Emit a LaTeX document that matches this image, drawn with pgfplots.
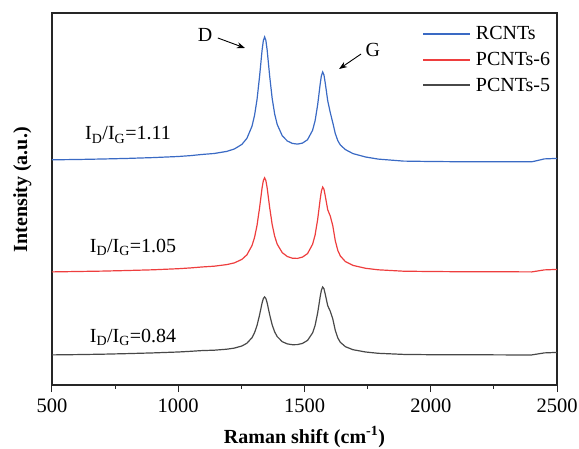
\documentclass[border=0pt]{standalone}
\usepackage{fontspec}
\setmainfont{Liberation Serif}
\usepackage{pgfplots}
\usepackage{pgfplotstable}
\pgfplotsset{compat=1.18}
\usetikzlibrary{arrows.meta}

\definecolor{rcnt}{RGB}{58,106,196}
\definecolor{pcntsix}{RGB}{238,62,62}
\definecolor{pcntfive}{RGB}{72,72,72}

% Raman spectra, stacked with a vertical offset (arbitrary intensity units)
\pgfplotstableread{
x     blue   red    black
500   226.2  114.1  31.1
600   226.5  114.5  31.4
700   227.0  114.9  31.8
800   227.6  115.5  32.4
900   228.4  116.2  33.1
1000  229.5  117.3  34.0
1050  230.4  118.1  34.7
1092  231.5  119.0  35.4
1142  232.5  119.8  35.8
1192  234.6  121.4  36.8
1222  237.0  123.1  37.9
1252  241.6  126.6  40.0
1272  247.7  131.2  42.8
1292  259.7  140.4  48.3
1302  270.4  148.4  53.2
1312  286.5  160.6  60.5
1322  309.4  178.1  71.0
1332  335.8  198.1  83.0
1337  345.4  205.4  87.4
1342  349.1  208.2  89.1
1347  345.6  205.5  87.5
1352  336.2  198.3  83.2
1362  310.1  178.6  71.4
1372  287.5  161.5  61.1
1382  271.8  149.6  54.0
1392  261.5  141.8  49.4
1412  250.2  133.3  44.3
1432  245.0  129.5  42.1
1452  242.6  127.8  41.3
1472  241.9  127.6  41.4
1492  242.9  128.9  42.6
1512  246.3  132.4  45.6
1532  255.7  141.7  53.1
1542  265.3  151.0  60.6
1552  281.0  166.3  72.9
1557  291.3  176.3  80.9
1562  301.8  186.6  89.2
1567  310.4  195.0  95.9
1572  314.0  198.9  99.0
1577  311.1  196.8  97.3
1582  303.3  190.4  92.0
1592  285.2  176.2  80.3
1602  273.5  170.0  74.8
1612  263.3  160.3  67.1
1622  252.4  145.2  55.5
1632  245.3  135.5  48.0
1642  241.0  130.0  43.7
1662  236.4  124.4  39.3
1692  232.4  120.6  36.3
1742  229.0  117.7  34.0
1792  226.9  116.2  32.7
1892  224.9  114.8  31.6
2000  224.5  114.5  31.3
2100  224.3  114.3  31.2
2200  224.3  114.2  31.2
2300  224.2  114.2  31.1
2400  224.2  114.1  31.1
2425  225.6  115.1  32.1
2450  227.1  116.1  33.1
2500  227.6  116.6  33.6
}\spectra

\begin{document}
\begin{tikzpicture}
\begin{axis}[
  at={(0,0)}, anchor=south west,
  scale only axis, width=505pt, height=372pt,
  xmin=500, xmax=2500, ymin=1, ymax=373,
  axis line style={line width=1.3pt, black!85},
  xtick={500,1000,1500,2000,2500},
  minor x tick num=1,
  ytick=\empty,
  xtick pos=bottom,
  tick align=outside,
  tick style={line width=1pt, black!85},
  major tick length=7pt, minor tick length=3.5pt,
  /pgf/number format/assume math mode=true,
  /pgf/number format/1000 sep={},
  ticklabel style={font=\fontsize{20.5}{24}\selectfont},
  xticklabel style={yshift=-3pt},
  xlabel={Raman shift (cm\textsuperscript{-1})},
  ylabel={Intensity (a.u.)},
  label style={font=\fontsize{20}{24}\selectfont\bfseries},
  xlabel style={yshift=-7pt},
  ylabel style={yshift=10pt, at={(ticklabel cs:0.525)}},
  legend style={draw=none, fill=none, at={(axis cs:1965,361.5)}, anchor=north west,
    font=\fontsize{20}{24}\selectfont, inner sep=0pt, row sep=6.8pt,
    column sep=3pt, nodes={inner sep=2pt}},
  legend cell align=left,
  legend image code/.code={\draw[#1, line width=1.8pt] (0pt,0pt) -- (47pt,0pt);},
  every axis plot/.append style={line width=1.2pt},
]
\addplot[rcnt] table[x=x, y=blue] {\spectra};
\addlegendentry{RCNTs}
\addplot[pcntsix] table[x=x, y=red] {\spectra};
\addlegendentry{PCNTs-6}
\addplot[pcntfive] table[x=x, y=black] {\spectra};
\addlegendentry{PCNTs-5}

% band labels and pointers
\node[font=\fontsize{20}{24}\selectfont] at (axis cs:1106,351) {D};
\draw[-{Stealth[length=8pt,width=6pt]}, line width=0.9pt] (axis cs:1157,348) -- (axis cs:1264,338);
\node[font=\fontsize{20}{24}\selectfont] at (axis cs:1771,336) {G};
\draw[-{Stealth[length=8pt,width=6pt]}, line width=0.9pt] (axis cs:1724,332) -- (axis cs:1637,317);

% intensity ratios
\node[font=\fontsize{20}{24}\selectfont] at (axis cs:801,251) {I\textsubscript{D}/I\textsubscript{G}=1.11};
\node[font=\fontsize{20}{24}\selectfont] at (axis cs:821,139) {I\textsubscript{D}/I\textsubscript{G}=1.05};
\node[font=\fontsize{20}{24}\selectfont] at (axis cs:821,49) {I\textsubscript{D}/I\textsubscript{G}=0.84};
\end{axis}
\pgfresetboundingbox
\path (-52pt,-63pt) rectangle (527pt,385pt);
\end{tikzpicture}
\end{document}
